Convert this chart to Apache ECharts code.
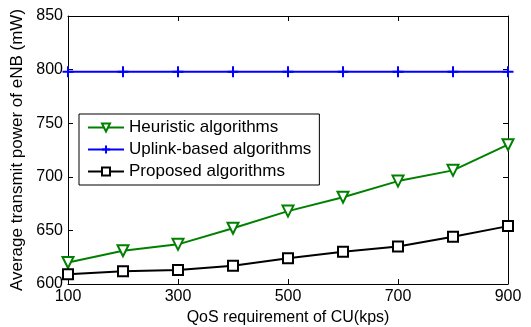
<!DOCTYPE html>
<html><head><meta charset="utf-8">
<script src="https://cdn.jsdelivr.net/npm/echarts@6/dist/echarts.min.js"></script>
<style>html,body{margin:0;padding:0;background:#fff}#c{width:531px;height:327px}</style>
</head><body><div id="c"></div>
<script>
var categories = [100, 200, 300, 400, 500, 600, 700, 800, 900];
var heuristic = [620, 631, 637, 652, 668, 681, 696, 706, 730];
var uplink = [798, 798, 798, 798, 798, 798, 798, 798, 798];
var proposed = [609, 612, 613, 617, 624, 630, 635, 644, 654];
var xTicks = [100, 300, 500, 700, 900];
var yTicks = [600, 650, 700, 750, 800, 850];

var font = 'Liberation Sans, Arial, sans-serif';
function pairs(v){ return categories.map(function(x,i){return [x, v[i]];}); }
var plusPath = 'path://M5,0L5,10M0,5L10,5';
var chart = echarts.init(document.getElementById('c'));
chart.setOption({
  animation:false,
  textStyle:{fontFamily:font},
  grid:{left:68, right:23, top:16, bottom:43, show:false, containLabel:false, outerBoundsMode:'none'},
  legend:{
    orient:'vertical', left:79, top:114,
    backgroundColor:'#fff', borderColor:'#000', borderWidth:1,
    padding:[5,8,5,8], itemGap:5, itemWidth:36, itemHeight:10,
    textStyle:{fontFamily:font, fontSize:17, color:'#000'},
    data:['Heuristic algorithms','Uplink-based algorithms','Proposed algorithms']
  },
  xAxis:[{
    type:'value', min:100, max:900, interval:200, position:'bottom',
    name:'QoS requirement of CU(kps)', nameLocation:'middle', nameGap:24,
    nameTextStyle:{fontFamily:font, fontSize:16, color:'#000'},
    axisLine:{show:true, onZero:false, lineStyle:{color:'#000'}},
    axisTick:{show:true, inside:true, length:5, lineStyle:{color:'#000'}},
    axisLabel:{fontFamily:font, fontSize:16, color:'#000', margin:5},
    splitLine:{show:false}
  },{
    type:'value', min:100, max:900, interval:200, position:'top',
    axisLine:{show:true, onZero:false, lineStyle:{color:'#000'}},
    axisTick:{show:true, inside:true, length:5, lineStyle:{color:'#000'}},
    axisLabel:{show:false}, splitLine:{show:false}
  }],
  yAxis:[{
    type:'value', min:600, max:850, interval:50, position:'left',
    name:'Average transmit power of eNB (mW)', nameLocation:'middle', nameGap:40,
    nameTextStyle:{fontFamily:font, fontSize:17, color:'#000'},
    axisLine:{show:true, onZero:false, lineStyle:{color:'#000'}},
    axisTick:{show:true, inside:true, length:5, lineStyle:{color:'#000'}},
    axisLabel:{fontFamily:font, fontSize:16, color:'#000', margin:5},
    splitLine:{show:false}
  },{
    type:'value', min:600, max:850, interval:50, position:'right',
    axisLine:{show:true, onZero:false, lineStyle:{color:'#000'}},
    axisTick:{show:true, inside:true, length:5, lineStyle:{color:'#000'}},
    axisLabel:{show:false}, splitLine:{show:false}
  }],
  series:[{
    name:'Heuristic algorithms', type:'line', data:pairs(heuristic),
    symbol:'triangle', symbolRotate:180, symbolSize:11,
    lineStyle:{color:'#008000', width:2},
    itemStyle:{color:'#fff', borderColor:'#008000', borderWidth:2},
    z:3
  },{
    name:'Uplink-based algorithms', type:'line', data:pairs(uplink),
    symbol:plusPath, symbolSize:11,
    lineStyle:{color:'#0000ff', width:2},
    itemStyle:{color:'#0000ff', borderColor:'#0000ff', borderWidth:2},
    z:3
  },{
    name:'Proposed algorithms', type:'line', data:pairs(proposed),
    symbol:'rect', symbolSize:10,
    lineStyle:{color:'#000', width:2},
    itemStyle:{color:'#fff', borderColor:'#000', borderWidth:2},
    z:3
  }]
});
</script></body></html>
